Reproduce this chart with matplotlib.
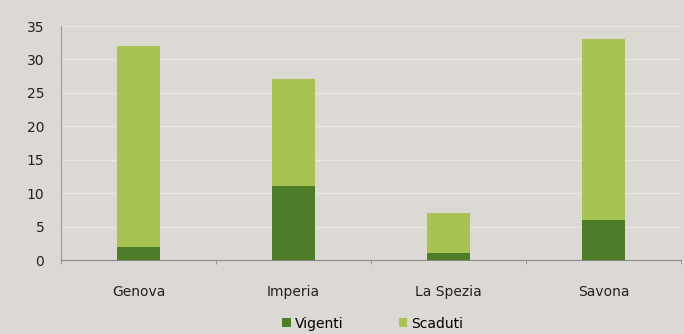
import numpy as np
import matplotlib.pyplot as plt

plt.rcParams['font.family'] = ['DejaVu Sans']

province = ["Genova", "Imperia", "La Spezia", "Savona"]
vigenti = [2, 11, 1, 6]
scaduti = [30, 16, 6, 27]

bg = "#dcd8d3"
dark = "#4e7d2a"
light = "#a8c450"

fig = plt.figure(figsize=(6.84, 3.34), dpi=100, facecolor=bg)
ax = fig.add_axes([61 / 684, 74 / 334, 620 / 684, 234 / 334], facecolor=bg)

x = np.arange(len(province))
ax.bar(x, vigenti, width=0.28, color=dark, label="Vigenti", zorder=3)
ax.bar(x, scaduti, width=0.28, bottom=vigenti, color=light, label="Scaduti", zorder=3)

ax.set_xlim(-0.5, len(province) - 0.5)
ax.set_ylim(0, 35)
ax.set_yticks(range(0, 36, 5))
ax.set_xticks(x)
ax.set_xticklabels(province)
ax.set_xticks(np.arange(-0.5, len(province), 1), minor=True)
ax.tick_params(axis="x", which="major", length=0, pad=18, labelsize=10, colors="#222222")
ax.tick_params(axis="x", which="minor", length=3, color="#8a8a8a")
ax.tick_params(axis="y", length=0, pad=12, labelsize=10, colors="#222222")
ax.grid(axis="y", color="#e9e6e2", linewidth=1, zorder=0)
for side in ["top", "right"]:
    ax.spines[side].set_visible(False)
ax.spines["left"].set_color("#9a9a9a")
ax.spines["bottom"].set_color("#8a8a8a")

ax.legend(loc="lower center", bbox_to_anchor=(0.503, -0.355), ncol=2, frameon=False,
          fontsize=10, handlelength=0.6, handleheight=0.6, handletextpad=0.3,
          columnspacing=4.0)

plt.savefig("out.png", dpi=100, facecolor=bg)
